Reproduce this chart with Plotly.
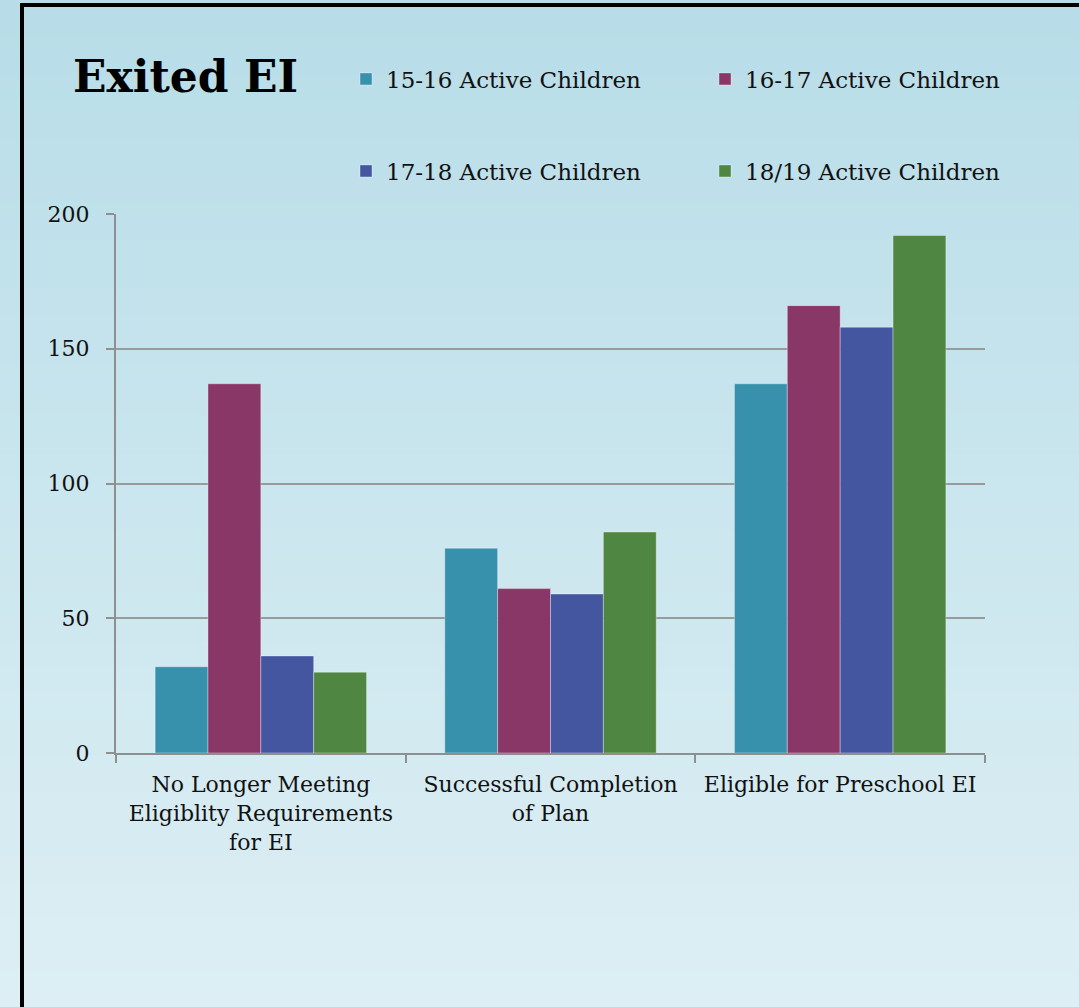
import plotly.graph_objects as go

# Exit reasons (x categories) and yearly counts per cohort
categories = [
    "No Longer Meeting<br>Eligiblity Requirements<br>for EI",
    "Successful Completion<br>of Plan",
    "Eligible for Preschool EI",
]
series_names = [
    "15-16 Active Children",
    "16-17 Active Children",
    "17-18 Active Children",
    "18/19 Active Children",
]
active_15_16 = [32, 76, 137]
active_16_17 = [137, 61, 166]
active_17_18 = [36, 59, 158]
active_18_19 = [30, 82, 192]
y_ticks = [0, 50, 100, 150, 200]

colors = ["#3791AC", "#893766", "#4556A1", "#4F8641"]
legend_ids = ["legend", "legend", "legend2", "legend2"]

W, H = 1079, 1007
L, R, T, B = 116, 94, 214, 254
FONT = "DejaVu Serif"

fig = go.Figure()
for name, vals, col, lg in zip(series_names,
                               [active_15_16, active_16_17, active_17_18, active_18_19],
                               colors, legend_ids):
    fig.add_trace(go.Bar(
        x=categories, y=vals, name=name, legend=lg,
        marker=dict(color=col, line=dict(color="rgba(255,255,255,0.35)", width=1)),
    ))

# pixel -> paper coordinate helpers
pw, ph = W - L - R, H - T - B
def px_x(x):
    return (x - L) / pw
def px_y(y):
    return (H - B - y) / ph

# vertical background gradient built from thin bands
top_rgb = (184, 221, 232)
bot_rgb = (221, 239, 244)
n = 80
shapes = []
for i in range(n):
    t = i / (n - 1)
    c = tuple(round(a + (b - a) * t) for a, b in zip(top_rgb, bot_rgb))
    y0 = i * H / n
    y1 = (i + 1) * H / n + 1
    shapes.append(dict(
        type="rect", xref="paper", yref="paper", layer="below",
        x0=px_x(-2), x1=px_x(W + 2), y0=px_y(y1), y1=px_y(y0),
        fillcolor="rgb(%d,%d,%d)" % c, line=dict(width=0),
    ))
# black frame along top and left
shapes.append(dict(type="line", xref="paper", yref="paper", layer="above",
                   x0=px_x(22), x1=px_x(W + 5), y0=px_y(5), y1=px_y(5),
                   line=dict(color="black", width=4)))
shapes.append(dict(type="line", xref="paper", yref="paper", layer="above",
                   x0=px_x(22), x1=px_x(22), y0=px_y(3), y1=px_y(H + 5),
                   line=dict(color="black", width=4)))

legend_common = dict(
    orientation="h", bgcolor="rgba(0,0,0,0)", borderwidth=0,
    font=dict(family=FONT, size=23, color="#111"),
    entrywidth=314, entrywidthmode="pixels",
    xanchor="left", yanchor="middle",
    itemclick=False, itemdoubleclick=False,
)

fig.update_layout(
    width=W, height=H,
    margin=dict(l=L, r=R, t=T, b=B, pad=0, autoexpand=False),
    paper_bgcolor="rgb(200,229,237)",
    plot_bgcolor="rgba(0,0,0,0)",
    barmode="group", bargap=0.27, bargroupgap=0,
    font=dict(family=FONT, size=22, color="#111"),
    title=dict(text="<b>Exited EI</b>", x=73 / W, xanchor="left",
               y=1 - 77 / H, yanchor="middle",
               font=dict(family=FONT, size=44, color="#000")),
    legend=dict(x=px_x(346), y=px_y(79), **legend_common),
    legend2=dict(x=px_x(346), y=px_y(171), **legend_common),
    shapes=shapes,
    xaxis=dict(
        type="category", showgrid=False,
        showline=True, linecolor="#8f8f8f", linewidth=2,
        ticks="outside", tickson="boundaries", ticklen=8,
        tickcolor="#8f8f8f", tickwidth=2,
        ticklabelstandoff=11,
        tickfont=dict(family=FONT, size=22, color="#111"),
    ),
    yaxis=dict(
        range=[0, 200], tickvals=y_ticks,
        showgrid=True, gridcolor="#9a9a9a", gridwidth=2,
        zeroline=False,
        showline=True, linecolor="#8f8f8f", linewidth=2,
        ticks="outside", ticklen=8, tickcolor="#8f8f8f", tickwidth=2,
        ticklabelstandoff=12,
        tickfont=dict(family=FONT, size=22, color="#111"),
    ),
)

fig.write_html("out.html")
